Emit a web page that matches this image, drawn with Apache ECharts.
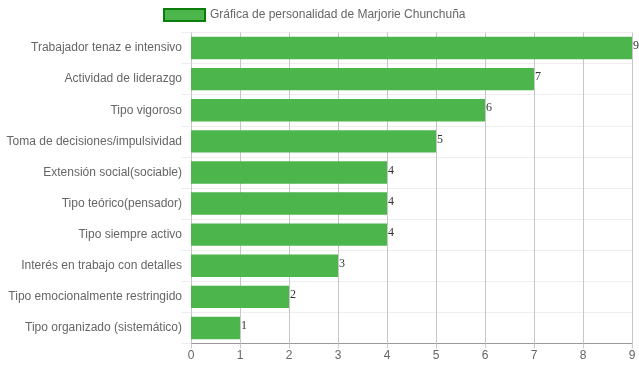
<!DOCTYPE html>
<html><head><meta charset="utf-8">
<script src="https://cdn.jsdelivr.net/npm/echarts@6/dist/echarts.min.js"></script>
<style>html,body{margin:0;padding:0;background:#fff}#c{width:639px;height:372px}</style>
</head><body><div id="c"></div>
<script>
const categories = ["Trabajador tenaz e intensivo","Actividad de liderazgo","Tipo vigoroso","Toma de decisiones/impulsividad","Extensión social(sociable)","Tipo teórico(pensador)","Tipo siempre activo","Interés en trabajo con detalles","Tipo emocionalmente restringido","Tipo organizado (sistemático)"];
const values = [9,7,6,5,4,4,4,3,2,1];
const seriesName = "Gráfica de personalidad de Marjorie Chunchuña";
const xTicks = {min:0,max:9,interval:1};

const chart = echarts.init(document.getElementById('c'));
chart.setOption({
  animation:false,
  legend:{top:8,left:163,padding:0,itemWidth:41,itemHeight:12,itemGap:6,icon:'rect',
    textStyle:{fontFamily:'Liberation Sans, Arial',fontSize:12,color:'#666'},
    itemStyle:{borderColor:'#0a7d0a',borderWidth:2}},
  grid:{left:191,right:7,top:32.5,bottom:28.5},
  xAxis:{type:'value',min:xTicks.min,max:xTicks.max,interval:xTicks.interval,
    axisLine:{show:true,lineStyle:{color:'#999'}},
    axisTick:{show:true,length:5,lineStyle:{color:'#ccc'}},
    axisLabel:{fontFamily:'Liberation Sans, Arial',fontSize:12,color:'#666',margin:6},
    splitLine:{show:true,lineStyle:{color:'#c6c6c6'}}},
  yAxis:{type:'category',data:categories,inverse:true,
    axisLine:{show:false},
    axisTick:{show:true,length:10,lineStyle:{color:'#eee'}},
    axisLabel:{fontFamily:'Liberation Sans, Arial',fontSize:12,color:'#666',margin:9},
    splitLine:{show:true,lineStyle:{color:'#eee'}}},
  series:[{name:seriesName,type:'bar',data:values,barWidth:'72%',
    itemStyle:{color:'#4cb54c'},
    label:{show:true,position:'right',distance:1,offset:[0,-2],
      fontFamily:'Liberation Serif, Times New Roman',fontSize:12,color:'#333'}}]
});
</script></body></html>
